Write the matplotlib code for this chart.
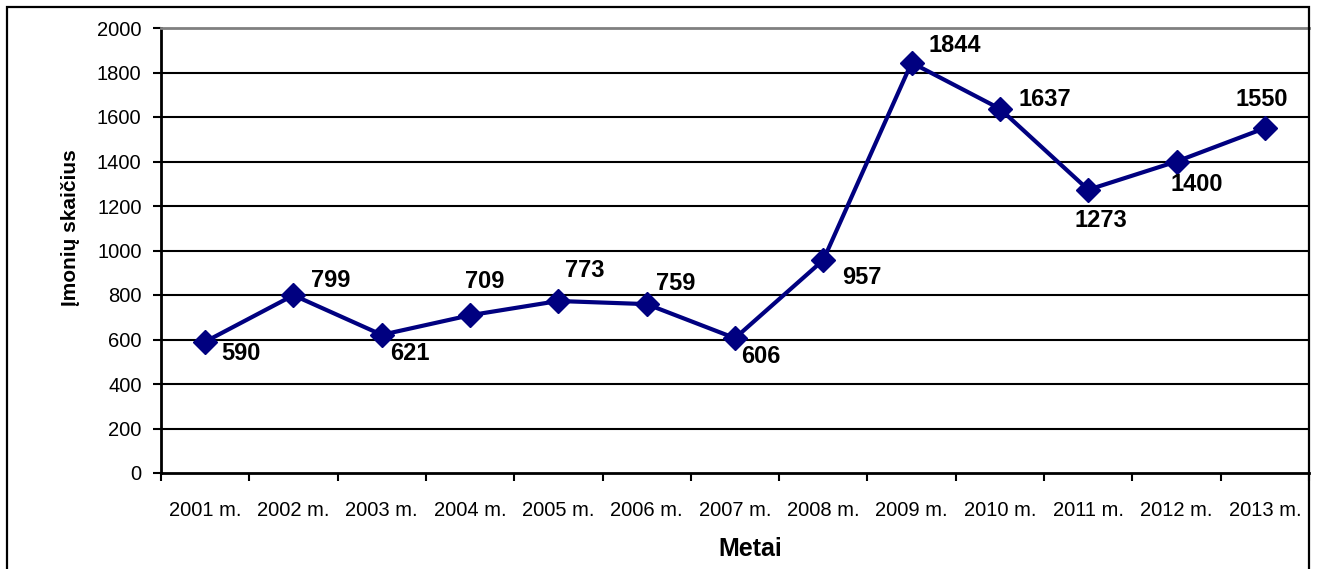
import matplotlib.pyplot as plt
from matplotlib.patches import Rectangle

# Company counts per year
years = ["2001 m.", "2002 m.", "2003 m.", "2004 m.", "2005 m.", "2006 m.", "2007 m.",
         "2008 m.", "2009 m.", "2010 m.", "2011 m.", "2012 m.", "2013 m."]
counts = [590, 799, 621, 709, 773, 759, 606, 957, 1844, 1637, 1273, 1400, 1550]

# label offsets in pixels (dx, dy) from each point
label_offsets = [(36, -12), (37, 15), (28, -19), (15, 34), (26, 31), (29, 21), (26, -18),
                 (39, -17), (43, 17), (45, 9), (13, -31), (20, -23), (-3, 29)]

plt.rcParams['font.family'] = ['Liberation Sans', 'DejaVu Sans']

fig = plt.figure(figsize=(13.18, 5.69), dpi=100)
ax = fig.add_axes([161 / 1318, 1 - 473 / 569, 1148 / 1318, 445 / 569])

x = list(range(len(years)))
ax.plot(x, counts, color="#000080", lw=3, marker="D", markersize=12,
        markerfacecolor="#000080", markeredgecolor="#000080", zorder=3)

px = 0.72  # points per pixel
for xi, v, (dx, dy) in zip(x, counts, label_offsets):
    ax.annotate(str(v), (xi, v), xytext=(dx * px, dy * px), textcoords="offset points",
                ha="center", va="center", fontsize=17, fontweight="bold", zorder=4)

ax.set_xlim(-0.5, len(years) - 0.5)
ax.set_ylim(0, 2000)
ax.set_yticks(range(0, 2001, 200))
ax.tick_params(axis="y", labelsize=14.5, length=6, width=1.5, pad=8, direction="out")

# category labels centred, tick marks between categories
ax.set_xticks(x)
ax.set_xticklabels(years)
ax.set_xticks([i - 0.5 for i in range(len(years) + 1)], minor=True)
ax.tick_params(axis="x", which="major", length=0, labelsize=14.5, pad=20)
ax.tick_params(axis="x", which="minor", length=6, width=1.5, direction="out")

for v in range(200, 2000, 200):
    ax.axhline(v, color="black", lw=1.5, zorder=1)

ax.spines["right"].set_visible(False)
ax.spines["top"].set_color("#808080")
ax.spines["top"].set_linewidth(2)
ax.spines["left"].set_linewidth(2)
ax.spines["bottom"].set_linewidth(2)

fig.text(70 / 1318, 1 - 228 / 569, "Įmonių skaičius", rotation=90, ha="center", va="center",
         fontsize=15, fontweight="bold")
fig.text(750 / 1318, 1 - 549 / 569, "Metai", ha="center", va="center",
         fontsize=18, fontweight="bold")

# outer frame
fig.patches.append(Rectangle((7 / 1318, -0.02), 1302 / 1318, 1.02 - 7 / 569,
                             transform=fig.transFigure, fill=False, edgecolor="black", lw=1.6))

fig.savefig("out.png", dpi=100)
